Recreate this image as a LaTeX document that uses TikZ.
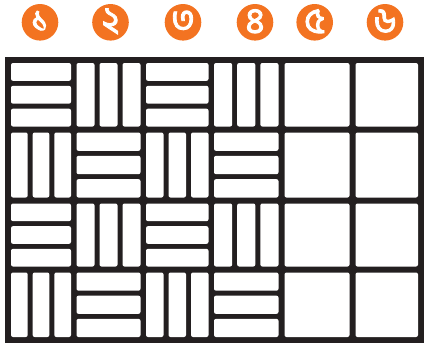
\documentclass[tikz,border=0pt]{standalone}
\usepackage{fontspec}
\newfontfamily\bnfont[Script=Bengali,FakeBold=2.5]{Hind Siliguri}
\definecolor{numorange}{RGB}{243,115,33}
\definecolor{inkblack}{RGB}{35,31,32}
\begin{document}
\begin{tikzpicture}[x=1pt,y=-1pt,
  numdisc/.style={circle,fill=numorange,minimum size=36.6pt,inner sep=0pt},
  numtext/.style={inner sep=0pt,text=white,yshift=1pt,
    font=\bnfont\fontsize{36}{36}\selectfont},
  tile/.style={fill=white,rounded corners=2pt}]
\useasboundingbox (0,0) rectangle (425,348);
% numbered discs
\node[numdisc] (n1) at (40,22.3) {};
\node[numdisc] (n2) at (110.5,22.3) {};
\node[numdisc] (n3) at (183,22.3) {};
\node[numdisc] (n4) at (255,22.3) {};
\node[numdisc] (n5) at (314.7,22.3) {};
\node[numdisc] (n6) at (385,22.3) {};
\node[numtext] (t1) at (n1) {১};
\node[numtext] (t2) at (n2) {২};
\node[numtext] (t3) at (n3) {৩};
\node[numtext] (t4) at (n4) {৪};
\node[numtext] (t5) at (n5) {৫};
\node[numtext] (t6) at (n6) {৬};
% grid
\fill[inkblack] (5,57) rectangle (424,343);
\foreach \r in {0,...,3}{
  \foreach \c in {0,...,5}{
    \pgfmathsetmacro\L{{11,76.5,146,214,284.5,355.5}[\c]}
    \pgfmathsetmacro\R{{71,140.5,208.5,278.5,349.5,418}[\c]}
    \pgfmathsetmacro\T{{63,132.5,203.5,272.5}[\r]}
    \pgfmathsetmacro\B{{126.5,197.5,266.5,337}[\r]}
    \pgfmathtruncatemacro\pp{mod(\r+\c,2)}
    \ifnum\c>3
      \fill[tile] (\L,\T) rectangle (\R,\B);
    \else
      \ifnum\pp=0
        \pgfmathsetmacro\h{(\B-\T-10)/3}
        \foreach \k in {0,1,2}{
          \pgfmathsetmacro\ya{\T+\k*(\h+5)}
          \pgfmathsetmacro\yb{\ya+\h}
          \fill[tile] (\L,\ya) rectangle (\R,\yb);
        }
      \else
        \pgfmathsetmacro\w{(\R-\L-10)/3}
        \foreach \k in {0,1,2}{
          \pgfmathsetmacro\xa{\L+\k*(\w+5)}
          \pgfmathsetmacro\xb{\xa+\w}
          \fill[tile] (\xa,\T) rectangle (\xb,\B);
        }
      \fi
    \fi
  }
}
\end{tikzpicture}
\end{document}
